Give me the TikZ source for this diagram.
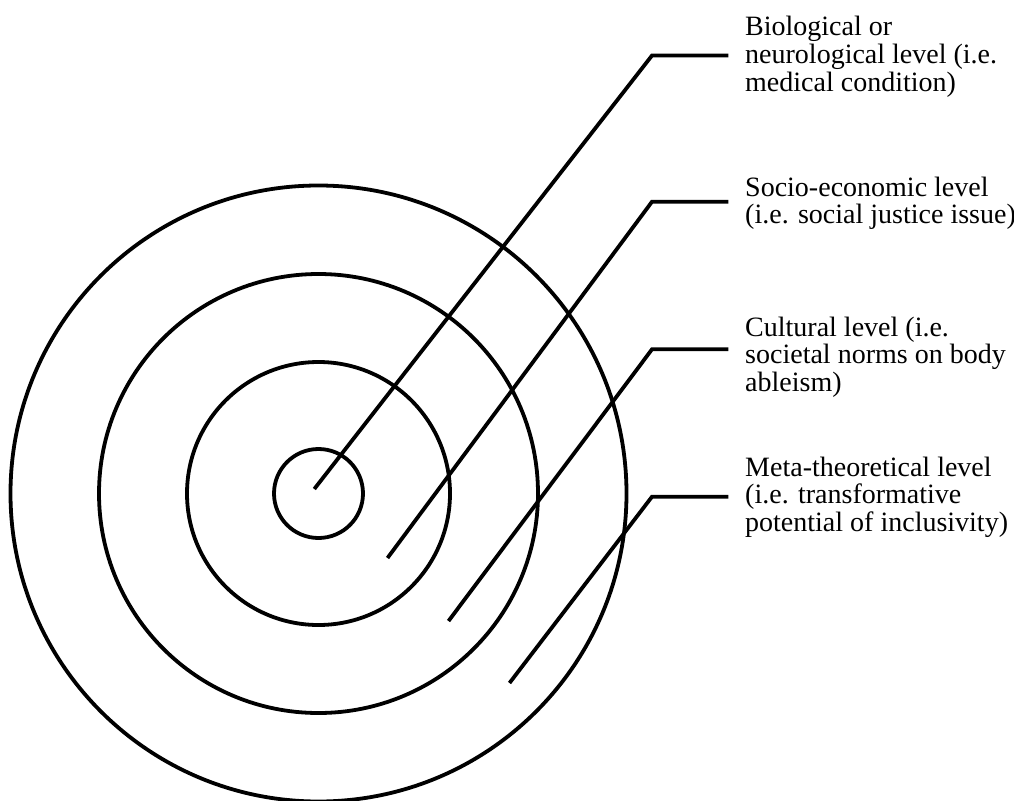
\documentclass[tikz,border=0pt]{standalone}
\usepackage{fontspec}
\setmainfont{Liberation Serif}
\begin{document}
\begin{tikzpicture}[x=1pt,y=-1pt,
  ring/.style={draw=black,line width=3.8pt},
  leader/.style={draw=black,line width=3.8pt,line join=miter},
  lbl/.style={anchor=base west,inner sep=0pt,
    font=\fontsize{28}{27.3}\selectfont}]
\useasboundingbox (0,0) rectangle (1014,800);

% concentric levels
\coordinate (c) at (318.5,493.5);
\draw[ring] (c) circle[radius=44.5pt];
\draw[ring] (c) circle[radius=131.5pt];
\draw[ring] (c) circle[radius=219.5pt];
\draw[ring] (c) circle[radius=308pt];

% leader lines: start inside a ring, bend, run right to the label
\coordinate (s1) at (314.3,489);   \coordinate (k1) at (652,55.5);  \coordinate (e1) at (728.3,55.5);
\coordinate (s2) at (387.5,558);   \coordinate (k2) at (652,201.7); \coordinate (e2) at (728.3,201.7);
\coordinate (s3) at (448.5,621);   \coordinate (k3) at (652,349.3); \coordinate (e3) at (728.3,349.3);
\coordinate (s4) at (509.5,683);   \coordinate (k4) at (652,496.7); \coordinate (e4) at (728.3,496.7);

\draw[leader] (s1) -- (k1) -- (e1);
\draw[leader] (s2) -- (k2) -- (e2);
\draw[leader] (s3) -- (k3) -- (e3);
\draw[leader] (s4) -- (k4) -- (e4);

% labels
\node[lbl] (l1) at (745,36) {\begin{tabular}[t]{@{}l@{}}Biological or\\neurological level (i.e.\\medical condition)\end{tabular}};
\node[lbl] (l2) at (745,196) {\begin{tabular}[t]{@{}l@{}}Socio-economic level\\(i.e. social justice issue)\end{tabular}};
\node[lbl] (l3) at (745,336) {\begin{tabular}[t]{@{}l@{}}Cultural level (i.e.\\societal norms on body\\ableism)\end{tabular}};
\node[lbl] (l4) at (745,476) {\begin{tabular}[t]{@{}l@{}}Meta-theoretical level\\(i.e. transformative\\potential of inclusivity)\end{tabular}};
\end{tikzpicture}
\end{document}
